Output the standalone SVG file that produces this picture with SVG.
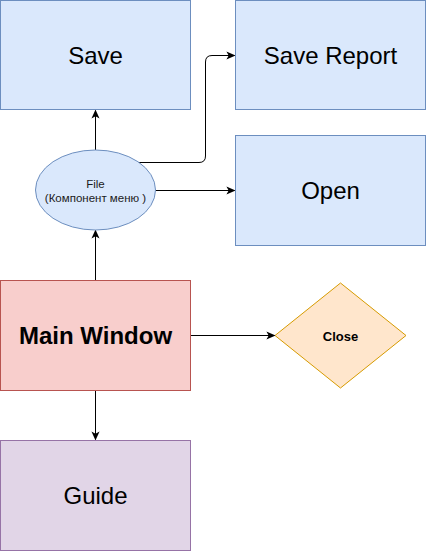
<svg xmlns="http://www.w3.org/2000/svg" width="426" height="551" viewBox="0 0 426 551">
<style>
.blue{fill:#dae8fc;stroke:#6c8ebf;stroke-width:1}
.red{fill:#f8cecc;stroke:#b85450;stroke-width:1}
.orange{fill:#ffe6cc;stroke:#d79b00;stroke-width:1}
.purple{fill:#e1d5e7;stroke:#9673a6;stroke-width:1}
text{font-family:"Liberation Sans",Arial,sans-serif;fill:#000;text-anchor:middle}
.big{font-size:24px}
.small{font-size:11.5px;fill:#1a1a1a}
.bold{font-weight:bold}
.edge{fill:none;stroke:#000;stroke-width:1;marker-end:url(#arr)}
</style>
<defs>
<marker id="arr" viewBox="0 0 10 10" refX="9" refY="5" markerWidth="9" markerHeight="9" markerUnits="userSpaceOnUse" orient="auto">
<path d="M0,0.5 L10,5 L0,9.5 L2.5,5 Z" fill="#000"/>
</marker>
</defs>
<g id="connectors">
<path class="edge" d="M95.5,150 L95.5,110.5"/>
<path class="edge" d="M95.5,280 L95.5,230.5"/>
<path class="edge" d="M155.5,190.5 L234.5,190.5"/>
<path class="edge" d="M138,162.5 L199,162.5 Q205.5,162.5 205.5,156 L205.5,62 Q205.5,55.5 212,55.5 L234.5,55.5"/>
<path class="edge" d="M190.5,335.5 L274.5,335.5"/>
<path class="edge" d="M95.5,390.5 L95.5,439.5"/>
</g>
<g id="save">
<rect class="blue" x="0.5" y="0.5" width="190" height="109"/>
<text class="big" x="95.5" y="63.5">Save</text>
</g>
<g id="save-report">
<rect class="blue" x="235.5" y="0.5" width="190" height="109"/>
<text class="big" x="330.5" y="63.5">Save Report</text>
</g>
<g id="open">
<rect class="blue" x="235.5" y="135.5" width="190" height="110"/>
<text class="big" x="330.5" y="199">Open</text>
</g>
<g id="file">
<ellipse class="blue" cx="95.5" cy="190" rx="60" ry="40"/>
<text class="small" x="95.5" y="187.5">File</text>
<text class="small" x="95.5" y="202">(Компонент меню )</text>
</g>
<g id="main-window">
<rect class="red" x="0.5" y="280.5" width="190" height="110"/>
<text class="big bold" x="95.5" y="343.5">Main Window</text>
</g>
<g id="close">
<polygon class="orange" points="275,335.5 340.5,283 406,335.5 340.5,388"/>
<text class="bold" x="340.5" y="340.5" style="font-size:13px">Close</text>
</g>
<g id="guide">
<rect class="purple" x="0.5" y="440.5" width="190" height="110"/>
<text class="big" x="95.5" y="503.5">Guide</text>
</g>
</svg>
